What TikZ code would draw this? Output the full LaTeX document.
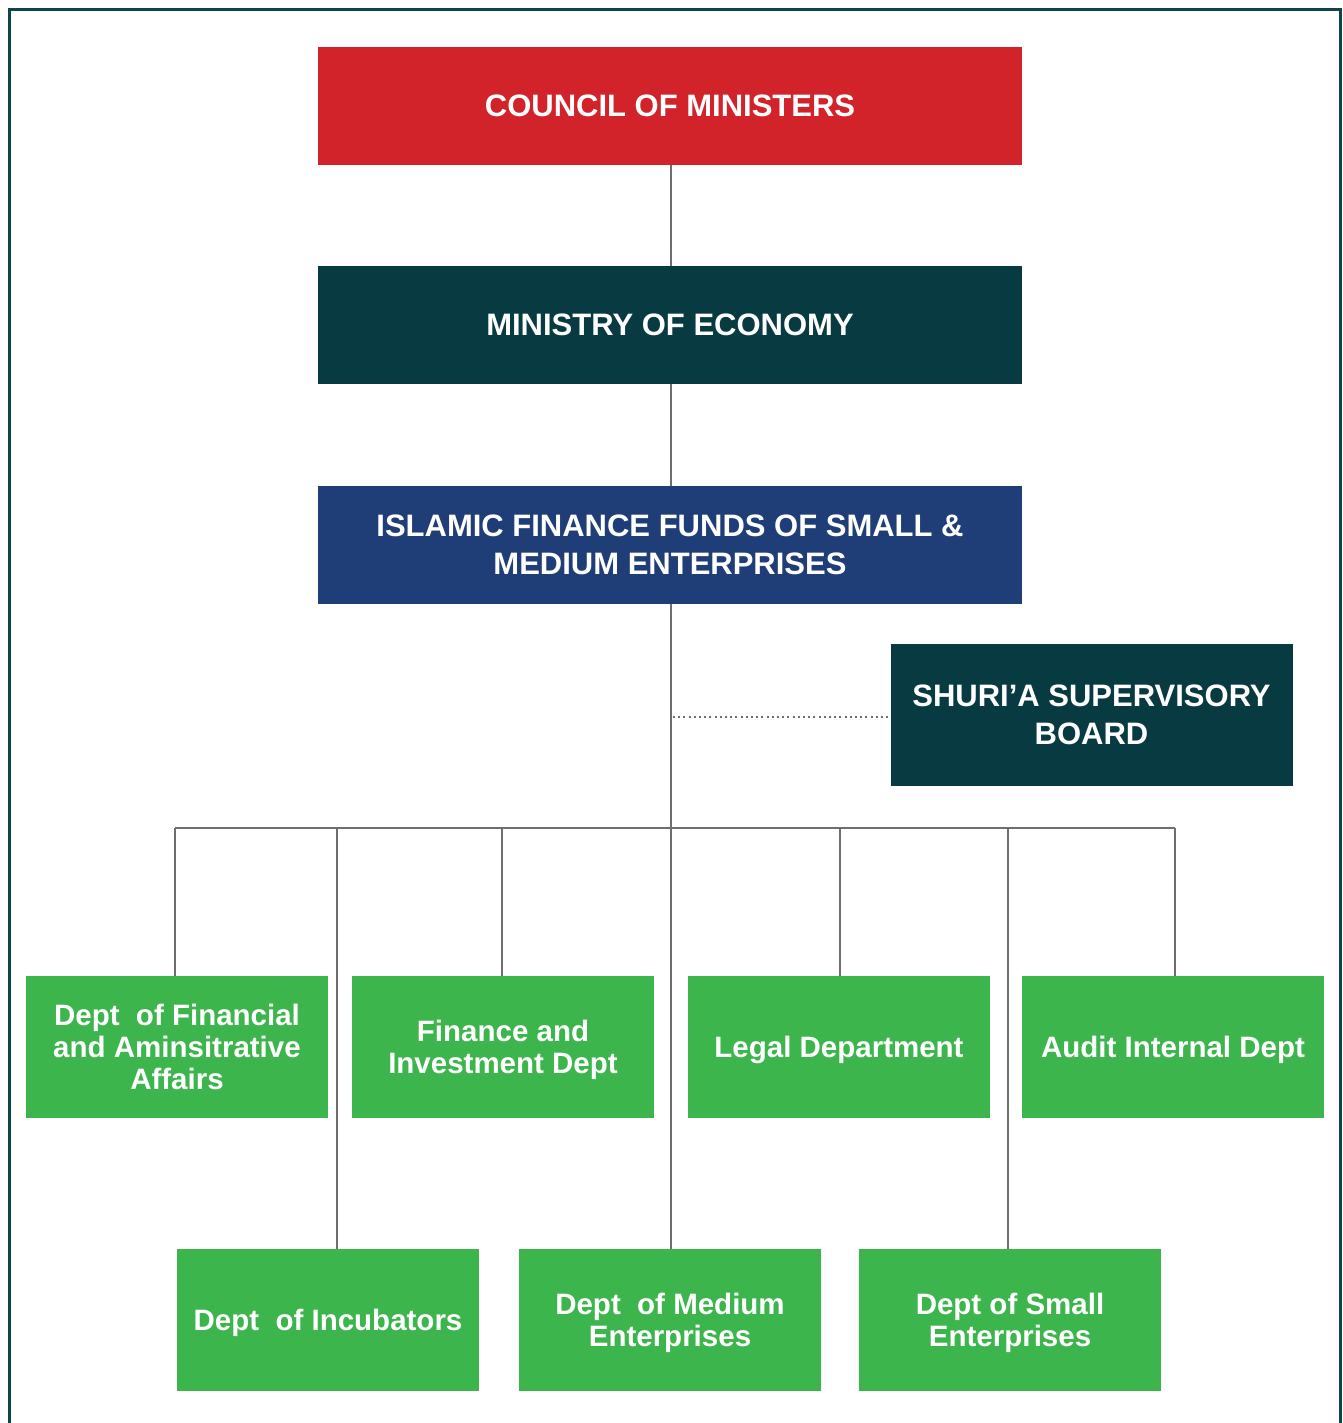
\documentclass[tikz,border=0pt]{standalone}
\usepackage{fontspec}
\setmainfont{Liberation Sans}
\usetikzlibrary{calc}
\definecolor{cred}{HTML}{D2232A}
\definecolor{cteal}{HTML}{083A42}
\definecolor{cblue}{HTML}{1F3E77}
\definecolor{cgreen}{HTML}{3CB54C}
\definecolor{cline}{HTML}{6E6E6E}
\definecolor{cframe}{HTML}{0F444C}
\tikzset{
  topbox/.style={draw=none, inner sep=0pt, minimum width=704pt, minimum height=118pt, text depth=0pt,
    text=white, font=\bfseries\fontsize{31}{38}\selectfont, align=center},
  deptbox/.style={fill=cgreen, draw=none, inner sep=0pt, minimum width=302pt, minimum height=142pt, text depth=0pt,
    text=white, font=\bfseries\fontsize{29.5}{32}\selectfont, align=center},
  link/.style={draw=cline, line width=2.6pt},
  dotlink/.style={draw=cline, line width=2pt, dash pattern=on 2pt off 3.2pt},
}
\begin{document}
\begin{tikzpicture}[x=1pt,y=-1pt]
\useasboundingbox (0,0) rectangle (1342,1423);
% outer frame (open at the bottom)
\draw[cframe, line width=3pt] (9.5,1430) -- (9.5,9.5) -- (1340.5,9.5) -- (1340.5,1430);

% top chain
\node[topbox, fill=cred]  (council)  at (670,106) {COUNCIL OF MINISTERS};
\node[topbox, fill=cteal] (ministry) at (670,325) {MINISTRY OF ECONOMY};
\node[topbox, fill=cblue] (fund)     at (670,545) {ISLAMIC FINANCE FUNDS OF SMALL \&\\MEDIUM ENTERPRISES};
\node[topbox, fill=cteal, minimum width=402pt, minimum height=142pt] (shura) at (1091.5,715) {SHURI’A SUPERVISORY\\BOARD};

% departments, first row
\node[deptbox] (finadm) at (177,1047) {Dept\ \ of Financial\\and Aminsitrative\\Affairs};
\node[deptbox] (fininv) at (503,1047) {Finance and\\Investment Dept};
\node[deptbox] (legal)  at (839,1047) {Legal Department};
\node[deptbox] (audit)  at (1173,1047) {Audit Internal Dept};
% departments, second row
\node[deptbox] (incub)  at (328,1320) {Dept\ \ of Incubators};
\node[deptbox] (medium) at (670,1320) {Dept\ \ of Medium\\Enterprises};
\node[deptbox] (small)  at (1010,1320) {Dept of Small\\Enterprises};

% bus line
\coordinate (bus) at (671,828);
\coordinate (busL) at (175,828);
\coordinate (busR) at (1175,828);

\draw[link] (council.south -| bus) -- (ministry.north -| bus);
\draw[link] (ministry.south -| bus) -- (fund.north -| bus);
\draw[link] (fund.south -| bus) -- (bus);
\draw[dotlink] (673,717) -- (shura.west |- 0,717);
\draw[link] (busL) -- (busR);

\draw[link] (busL) -- (busL |- finadm.north);
\draw[link] (502,828) -- (502 ,0 |- fininv.north);
\draw[link] (840,828) -- (840,0 |- legal.north);
\draw[link] (busR) -- (busR |- audit.north);
\draw[link] (337,828) -- (337,0 |- incub.north);
\draw[link] (bus) -- (bus |- medium.north);
\draw[link] (1008,828) -- (1008,0 |- small.north);
\end{tikzpicture}
\end{document}
